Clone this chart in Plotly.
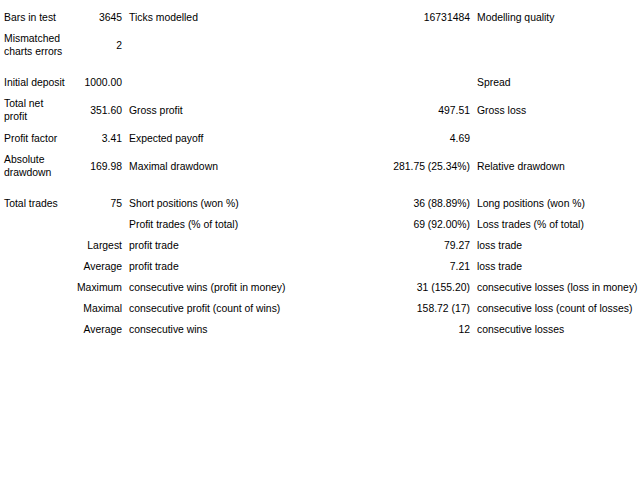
import plotly.graph_objects as go

# report rows, one list per table column
labels_a = ["Bars in test", "Mismatched<br>charts errors", "Initial deposit", "Total net<br>profit",
            "Profit factor", "Absolute<br>drawdown", "Total trades", "", "", "", "", "", ""]
values_a = ["3645", "2", "1000.00", "351.60", "3.41", "169.98", "75", "",
            "Largest", "Average", "Maximum", "Maximal", "Average"]
labels_b = ["Ticks modelled", "", "", "Gross profit", "Expected payoff", "Maximal drawdown",
            "Short positions (won %)", "Profit trades (% of total)", "profit trade", "profit trade",
            "consecutive wins (profit in money)", "consecutive profit (count of wins)", "consecutive wins"]
values_b = ["16731484", "", "", "497.51", "4.69", "281.75 (25.34%)", "36 (88.89%)", "69 (92.00%)",
            "79.27", "7.21", "31 (155.20)", "158.72 (17)", "12"]
labels_c = ["Modelling quality", "", "Spread", "Gross loss", "", "Relative drawdown",
            "Long positions (won %)", "Loss trades (% of total)", "loss trade", "loss trade",
            "consecutive losses (loss in money)", "consecutive loss (count of losses)", "consecutive losses"]
gap_before = [2, 6]  # blank spacer rows in the report

columns = [labels_a, values_a, labels_b, values_b, labels_c]
# column anchors: text edge x and which side the text sits on
col_pos = [(4, "middle right"), (122, "middle left"), (129, "middle right"),
           (470, "middle left"), (477, "middle right")]

# row centres from the number of text lines in each row
ys = []
top = 7.5
for i in range(len(labels_a)):
    if i in gap_before:
        top += 9
    lines = max(c[i].count("<br>") + 1 for c in columns)
    h = 7 + 14 * lines
    ys.append(top + h / 2)
    top += h

fig = go.Figure()
for col, (x, pos) in zip(columns, col_pos):
    fig.add_trace(go.Scatter(
        x=[x] * len(col), y=ys, text=col, mode="text", textposition=pos,
        textfont=dict(family="Liberation Sans", size=10.4, color="#000000"),
        hoverinfo="skip", showlegend=False, cliponaxis=False,
    ))

fig.update_layout(width=640, height=480, margin=dict(l=0, r=0, t=0, b=0),
                  plot_bgcolor="white", paper_bgcolor="white")
fig.update_xaxes(range=[0, 640], visible=False, fixedrange=True)
fig.update_yaxes(range=[480, 0], visible=False, fixedrange=True)

# page body has a default 8px margin; drop it so the report sits at the top-left
fig.write_html("out.html", config={"displayModeBar": False},
               post_script="document.body.style.margin='0';")
